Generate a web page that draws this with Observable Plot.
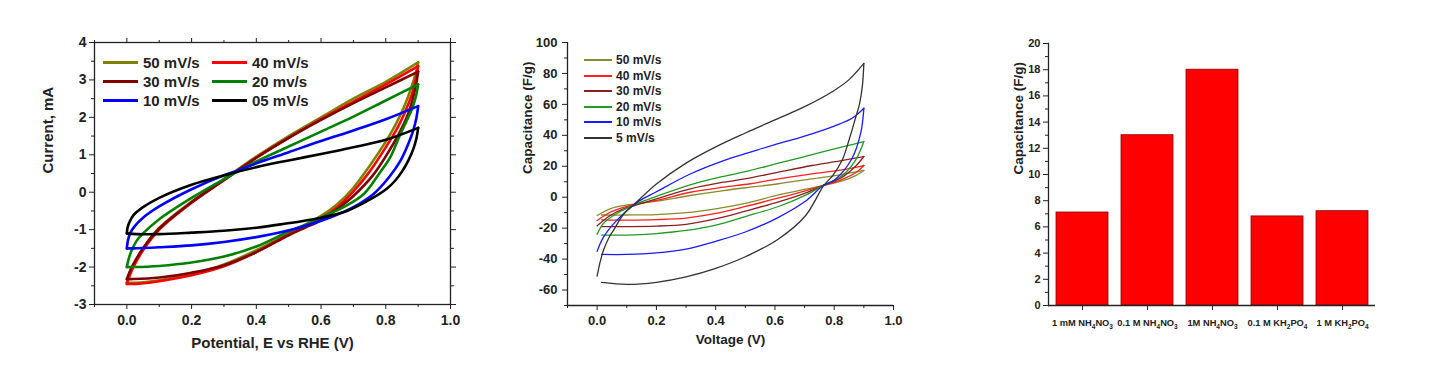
<!DOCTYPE html>
<html><head><meta charset="utf-8">
<script src="https://cdn.jsdelivr.net/npm/d3@7"></script>
<script src="https://cdn.jsdelivr.net/npm/@observablehq/plot@0.6"></script>
<style>
body{margin:0;background:#fff;}
#wrap{position:relative;width:1441px;height:366px;overflow:hidden;font-family:"Liberation Sans",Arial,sans-serif;font-weight:bold;color:#222;}
.panel{position:absolute;top:0;}
.leg{position:absolute;display:flex;align-items:center;white-space:nowrap;height:20px;}
.leg .sw{display:inline-block;}
</style></head><body><div id="wrap"></div>
<script>
// ---------- Panel 1: CV curves (Current, mA vs Potential) ----------
const cvNames = ["50 mV/s", "40 mV/s", "30 mV/s", "20 mv/s", "10 mV/s", "05 mV/s"];
const cvColors = ["#808000", "#ff0000", "#800000", "#008000", "#0000ff", "#000000"];
const cv50Up = [[0,-2.4],[0.01,-2.15],[0.02,-1.95],[0.05,-1.5],[0.1,-0.95],[0.2,-0.25],[0.3,0.35],[0.4,0.95],[0.5,1.5],[0.6,2.0],[0.7,2.5],[0.8,2.95],[0.9,3.47]];
const cv50Dn = [[0.9,3.47],[0.89,3.1],[0.875,2.7],[0.855,2.25],[0.83,1.8],[0.8,1.35],[0.75,0.7],[0.7,0.12],[0.65,-0.32],[0.6,-0.63],[0.55,-0.87],[0.5,-1.1],[0.4,-1.55],[0.3,-1.93],[0.2,-2.2],[0.1,-2.35],[0.03,-2.42],[0,-2.42]];
const cv40Up = [[0,-2.45],[0.01,-2.2],[0.02,-2.0],[0.05,-1.55],[0.1,-1.0],[0.2,-0.28],[0.3,0.32],[0.4,0.92],[0.5,1.45],[0.6,1.95],[0.7,2.42],[0.8,2.88],[0.9,3.37]];
const cv40Dn = [[0.9,3.37],[0.892,3.0],[0.88,2.6],[0.86,2.15],[0.835,1.7],[0.8,1.2],[0.75,0.55],[0.7,0.02],[0.65,-0.4],[0.6,-0.7],[0.55,-0.92],[0.5,-1.13],[0.4,-1.6],[0.3,-1.98],[0.2,-2.22],[0.1,-2.38],[0.03,-2.45],[0,-2.45]];
const cv30Up = [[0,-2.32],[0.01,-2.1],[0.02,-1.92],[0.05,-1.5],[0.1,-0.97],[0.2,-0.27],[0.3,0.33],[0.4,0.92],[0.5,1.45],[0.6,1.93],[0.7,2.38],[0.8,2.8],[0.9,3.22]];
const cv30Dn = [[0.9,3.22],[0.893,2.85],[0.882,2.45],[0.865,2.0],[0.84,1.55],[0.81,1.1],[0.76,0.45],[0.7,-0.1],[0.65,-0.45],[0.6,-0.75],[0.55,-0.95],[0.5,-1.15],[0.4,-1.6],[0.3,-1.95],[0.2,-2.15],[0.1,-2.28],[0.02,-2.32],[0,-2.32]];
const cv20Up = [[0,-2.0],[0.005,-1.8],[0.015,-1.55],[0.03,-1.3],[0.05,-1.1],[0.1,-0.72],[0.2,-0.15],[0.3,0.35],[0.4,0.82],[0.5,1.22],[0.6,1.62],[0.7,2.02],[0.8,2.45],[0.9,2.88]];
const cv20Dn = [[0.9,2.88],[0.893,2.55],[0.88,2.2],[0.864,1.9],[0.84,1.45],[0.815,0.95],[0.78,0.5],[0.733,-0.04],[0.68,-0.35],[0.62,-0.6],[0.578,-0.78],[0.5,-1.05],[0.4,-1.45],[0.3,-1.72],[0.2,-1.88],[0.1,-1.97],[0.02,-2.0],[0,-2.0]];
const cv10Up = [[0,-1.5],[0.003,-1.3],[0.01,-1.1],[0.025,-0.9],[0.05,-0.68],[0.1,-0.38],[0.2,0.08],[0.3,0.45],[0.35,0.6],[0.4,0.77],[0.5,1.07],[0.6,1.37],[0.7,1.65],[0.8,1.95],[0.9,2.3]];
const cv10Dn = [[0.9,2.3],[0.895,2.0],[0.885,1.65],[0.87,1.3],[0.846,0.85],[0.81,0.4],[0.763,-0.04],[0.7,-0.4],[0.63,-0.67],[0.55,-0.9],[0.475,-1.07],[0.4,-1.2],[0.3,-1.33],[0.2,-1.42],[0.1,-1.47],[0.02,-1.5],[0,-1.5]];
const cv05Up = [[0,-1.1],[0.002,-0.95],[0.008,-0.8],[0.02,-0.62],[0.05,-0.4],[0.1,-0.15],[0.2,0.2],[0.3,0.45],[0.4,0.67],[0.5,0.85],[0.6,1.02],[0.7,1.2],[0.8,1.4],[0.9,1.72]];
const cv05Dn = [[0.9,1.72],[0.895,1.45],[0.885,1.15],[0.87,0.85],[0.85,0.55],[0.83,0.32],[0.804,0.1],[0.75,-0.2],[0.68,-0.5],[0.6,-0.68],[0.475,-0.86],[0.4,-0.95],[0.3,-1.03],[0.2,-1.08],[0.1,-1.12],[0.03,-1.12],[0,-1.1]];
const cvUps = [cv50Up, cv40Up, cv30Up, cv20Up, cv10Up, cv05Up];
const cvDns = [cv50Dn, cv40Dn, cv30Dn, cv20Dn, cv10Dn, cv05Dn];
const p1XMajor = [0, 0.2, 0.4, 0.6, 0.8, 1.0];
const p1XMinor = [-0.1, 0.1, 0.3, 0.5, 0.7, 0.9];
const p1YMajor = [-3, -2, -1, 0, 1, 2, 3, 4];
const p1YMinor = [-2.5, -1.5, -0.5, 0.5, 1.5, 2.5, 3.5];

// ---------- Panel 2: Capacitance vs Voltage ----------
const capNames = ["50 mV/s", "40 mV/s", "30 mV/s", "20 mV/s", "10 mV/s", "5 mV/s"];
const capColors = ["#8a8a2a", "#ff2020", "#8b2020", "#229922", "#1a1aff", "#333333"];
const cap50Up = [[0,-11.8],[0.044,-7.5],[0.089,-5.4],[0.134,-4.3],[0.2,-2.6],[0.314,1.1],[0.427,4.3],[0.517,6.5],[0.612,8.7],[0.725,11.9],[0.82,14.5],[0.9,17.3]];
const cap50Dn = [[0.9,17.3],[0.872,14],[0.827,10.5],[0.763,7.6],[0.7,5],[0.612,1.5],[0.5,-4],[0.4,-7.5],[0.3,-10],[0.2,-11.2],[0.1,-11.5],[0.015,-11.5]];
const cap40Up = [[0,-15],[0.044,-9.7],[0.089,-6.5],[0.134,-4.3],[0.2,-2.1],[0.314,3.2],[0.427,6.5],[0.517,8.7],[0.612,11.9],[0.725,15.1],[0.82,17.5],[0.9,20.5]];
const cap40Dn = [[0.9,20.5],[0.877,16.5],[0.827,11.5],[0.763,7.6],[0.7,4],[0.612,-0.5],[0.5,-6],[0.4,-10.5],[0.3,-13.5],[0.2,-14.5],[0.1,-14.8],[0.015,-14.6]];
const cap30Up = [[0,-18.5],[0.044,-11.8],[0.089,-7.5],[0.134,-5],[0.2,-1.1],[0.314,5.4],[0.427,9.7],[0.517,12.5],[0.612,16.2],[0.725,20.5],[0.82,23.5],[0.9,26.3]];
const cap30Dn = [[0.9,26.3],[0.872,20],[0.827,13],[0.763,7.6],[0.7,2.5],[0.612,-3],[0.5,-9],[0.4,-14],[0.3,-17.5],[0.2,-18.7],[0.1,-19],[0.015,-19]];
const cap20Up = [[0,-24],[0.021,-17],[0.066,-10.5],[0.134,-4.3],[0.2,0.5],[0.314,8],[0.427,13.5],[0.5,16.5],[0.612,22],[0.725,27.5],[0.838,33],[0.9,36]];
const cap20Dn = [[0.9,36],[0.872,24],[0.827,14],[0.763,7.6],[0.7,1],[0.612,-6],[0.5,-12.5],[0.4,-18],[0.3,-21.5],[0.2,-23.5],[0.1,-24.5],[0.015,-24.5]];
const cap10Up = [[0,-35],[0.021,-26],[0.066,-15],[0.134,-3.5],[0.2,3.5],[0.314,15],[0.427,23.7],[0.517,29.1],[0.6,34],[0.7,39.5],[0.8,46],[0.86,51],[0.9,57.5]];
const cap10Dn = [[0.9,57.5],[0.89,42],[0.86,25],[0.8,11],[0.763,7.6],[0.7,-3],[0.612,-13],[0.5,-22.5],[0.4,-28.5],[0.3,-33.5],[0.2,-36],[0.1,-37],[0.015,-37]];
const cap5Up = [[0,-51],[0.01,-42],[0.021,-34.5],[0.04,-26],[0.055,-21.5],[0.089,-11],[0.134,-3],[0.2,8.5],[0.3,22],[0.4,32.5],[0.5,41.5],[0.6,50],[0.7,58.5],[0.8,69],[0.85,76],[0.9,86.5]];
const cap5Dn = [[0.9,86.5],[0.895,72],[0.885,60],[0.87,50],[0.85,37],[0.827,24],[0.795,14],[0.765,7.6],[0.703,-12],[0.612,-27],[0.5,-38.5],[0.4,-46],[0.3,-51.5],[0.2,-55],[0.1,-56.3],[0.015,-55]];
const capUps = [cap50Up, cap40Up, cap30Up, cap20Up, cap10Up, cap5Up];
const capDns = [cap50Dn, cap40Dn, cap30Dn, cap20Dn, cap10Dn, cap5Dn];
const p2XMajor = [0, 0.2, 0.4, 0.6, 0.8, 1.0];
const p2XMinor = [-0.1, 0.1, 0.3, 0.5, 0.7, 0.9];
const p2YMajor = [-60, -40, -20, 0, 20, 40, 60, 80, 100];
const p2YMinor = [-70, -50, -30, -10, 10, 30, 50, 70, 90];

// ---------- Panel 3: bar chart ----------
const electrolytes = ["1 mM NH₄NO₃", "0.1 M NH₄NO₃", "1M NH₄NO₃", "0.1 M KH₂PO₄", "1 M KH₂PO₄"];
const capacitances = [7.1, 13.0, 18.0, 6.8, 7.2];
const p3YMajor = [0, 2, 4, 6, 8, 10, 12, 14, 16, 18, 20];
const p3YMinor = [1, 3, 5, 7, 9, 11, 13, 15, 17, 19];

// ---------- helpers ----------
const FONT = '"Liberation Sans", Arial, sans-serif';
const INK = "#222";
function buildRows(names, ups, dns) {
  const rows = [];
  names.forEach((n, i) => {
    ups[i].forEach(([x, y]) => rows.push({series: n, key: n + "|up", x, y}));
    dns[i].forEach(([x, y]) => rows.push({series: n, key: n + "|dn", x, y}));
  });
  return rows;
}
const blank = () => "";
const wrap = document.getElementById("wrap");
function place(svg, left) {
  const d = document.createElement("div");
  d.className = "panel"; d.style.left = left + "px";
  d.appendChild(svg); wrap.appendChild(d);
}
function legend(items, colors, opt) {
  items.forEach((name, i) => {
    const col = i % opt.cols, row = Math.floor(i / opt.cols);
    const el = document.createElement("div");
    el.className = "leg";
    el.style.left = opt.x[col] + "px";
    el.style.top = (opt.y0 + row * opt.dy - 10) + "px";
    el.style.fontSize = opt.fontSize + "px";
    const sw = document.createElement("span");
    sw.className = "sw";
    sw.style.width = opt.lineW + "px";
    sw.style.height = opt.lineH + "px";
    sw.style.background = colors[i];
    sw.style.marginRight = opt.gap + "px";
    el.appendChild(sw);
    el.appendChild(document.createTextNode(name));
    wrap.appendChild(el);
  });
}
// render subscript digits of chemical formulas as smaller, lowered tspans
const SUB = {"₀":"0","₁":"1","₂":"2","₃":"3","₄":"4","₅":"5","₆":"6"};
function subscriptLabels(svg, sel, subSize, shift) {
  d3.select(svg).selectAll(sel).each(function() {
    const t = this.textContent;
    const runs = [];
    for (const ch of t) {
      const sub = ch in SUB;
      const c = sub ? SUB[ch] : ch;
      const last = runs[runs.length - 1];
      if (last && last.sub === sub) last.s += c; else runs.push({sub, s: c});
    }
    const node = d3.select(this);
    node.text(null);
    let down = false;
    runs.forEach(r => {
      const ts = node.append("tspan").text(r.s);
      if (r.sub) { ts.attr("font-size", subSize + "px").attr("dy", down ? 0 : shift); down = true; }
      else { if (down) ts.attr("dy", -shift); down = false; }
    });
  });
}

// ---------- Panel 1 ----------
const rows1 = buildRows(cvNames, cvUps, cvDns);
const p1 = Plot.plot({
  width: 480, height: 366,
  marginLeft: 94, marginRight: 30, marginTop: 42, marginBottom: 62,
  x: {domain: [-0.1, 1.0], label: null},
  y: {domain: [-3, 4], label: null},
  color: {domain: cvNames, range: cvColors},
  style: {fontFamily: FONT, fontWeight: "bold", fontSize: "14px", color: INK, background: "transparent"},
  marks: [
    Plot.axisX({ticks: p1XMajor, tickSize: 5, tickPadding: 6, tickFormat: d3.format(".1f"), label: null}),
    Plot.axisX({ticks: p1XMinor, tickSize: 3, tickFormat: blank, label: null}),
    Plot.axisX({anchor: "top", ticks: p1XMajor, tickSize: 5, tickFormat: blank, label: null}),
    Plot.axisX({anchor: "top", ticks: p1XMinor, tickSize: 3, tickFormat: blank, label: null}),
    Plot.axisY({ticks: p1YMajor, tickSize: 5, tickPadding: 3, tickFormat: d => String(d), label: null}),
    Plot.axisY({ticks: p1YMinor, tickSize: 3, tickFormat: blank, label: null}),
    Plot.axisY({anchor: "right", ticks: p1YMajor, tickSize: 5, tickFormat: blank, label: null}),
    Plot.axisY({anchor: "right", ticks: p1YMinor, tickSize: 3, tickFormat: blank, label: null}),
    Plot.frame({stroke: INK, strokeWidth: 1.3}),
    Plot.line(rows1, {x: "x", y: "y", z: "key", stroke: "series", strokeWidth: 2.6, curve: "catmull-rom"}),
    Plot.text(["Potential, E vs RHE (V)"], {text: d => d, frameAnchor: "bottom", dy: 43, fontSize: 15, fill: INK}),
    Plot.text(["Current, mA"], {text: d => d, frameAnchor: "left", dx: -46, rotate: -90, fontSize: 15, fill: INK})
  ]
});
place(p1, 0);
legend(cvNames, cvColors, {cols: 2, x: [103, 212], y0: 62, dy: 19.2, fontSize: 15, lineW: 35, lineH: 3, gap: 5});

// ---------- Panel 2 ----------
const rows2 = buildRows(capNames, capUps, capDns);
const p2 = Plot.plot({
  width: 480, height: 366,
  marginLeft: 87, marginRight: 67, marginTop: 42, marginBottom: 61,
  x: {domain: [-0.1, 1.0], label: null},
  y: {domain: [-70, 100], label: null},
  color: {domain: capNames, range: capColors},
  style: {fontFamily: FONT, fontWeight: "bold", fontSize: "13px", color: INK, background: "transparent"},
  marks: [
    Plot.axisX({ticks: p2XMajor, tickSize: 5, tickPadding: 5, tickFormat: d3.format(".1f"), label: null}),
    Plot.axisX({ticks: p2XMinor, tickSize: 3, tickFormat: blank, label: null}),
    Plot.axisY({ticks: p2YMajor, tickSize: 5, tickPadding: 5, tickFormat: d => String(d), label: null}),
    Plot.axisY({ticks: p2YMinor, tickSize: 3, tickFormat: blank, label: null}),
    Plot.ruleX([-0.1], {stroke: INK, strokeWidth: 1.3}),
    Plot.ruleY([-70], {stroke: INK, strokeWidth: 1.3}),
    Plot.line(rows2, {x: "x", y: "y", z: "key", stroke: "series", strokeWidth: 1.3, curve: "catmull-rom"}),
    Plot.text(["Voltage (V)"], {text: d => d, frameAnchor: "bottom", dy: 38, fontSize: 13.5, fill: INK}),
    Plot.text(["Capacitance (F/g)"], {text: d => d, frameAnchor: "left", dx: -40, rotate: -90, fontSize: 13.5, fill: INK})
  ]
});
place(p2, 480);
legend(capNames, capColors, {cols: 1, x: [584], y0: 60, dy: 15.6, fontSize: 12, lineW: 28, lineH: 2, gap: 4});

// ---------- Panel 3 ----------
const bars = electrolytes.map((e, i) => ({electrolyte: e, value: capacitances[i]}));
const p3 = Plot.plot({
  width: 481, height: 366,
  marginLeft: 88, marginRight: 66, marginTop: 43, marginBottom: 61,
  x: {domain: electrolytes, paddingInner: 0.2, paddingOuter: 0.1, label: null},
  y: {domain: [0, 20], label: null},
  style: {fontFamily: FONT, fontWeight: "bold", fontSize: "11px", color: INK, background: "transparent"},
  marks: [
    Plot.barY(bars, {x: "electrolyte", y: "value", fill: "#ff0000", stroke: "#8a0000", strokeWidth: 0.8}),
    Plot.axisX({tickSize: 5, tickPadding: 9, fontSize: 9.3, label: null}),
    Plot.axisY({ticks: p3YMajor, tickSize: 5, tickPadding: 3, tickFormat: d => String(d), label: null}),
    Plot.axisY({ticks: p3YMinor, tickSize: 3, tickFormat: blank, label: null}),
    Plot.frame({anchor: "left", stroke: INK, strokeWidth: 1.3}),
    Plot.ruleY([0], {stroke: INK, strokeWidth: 1.3}),
    Plot.text(["Capacitance (F/g)"], {text: d => d, frameAnchor: "left", dx: -30, rotate: -90, fontSize: 13.5, fill: INK})
  ]
});
subscriptLabels(p3, 'g[aria-label="x-axis tick label"] text', 6.5, 2.5);
place(p3, 960);
</script></body></html>
